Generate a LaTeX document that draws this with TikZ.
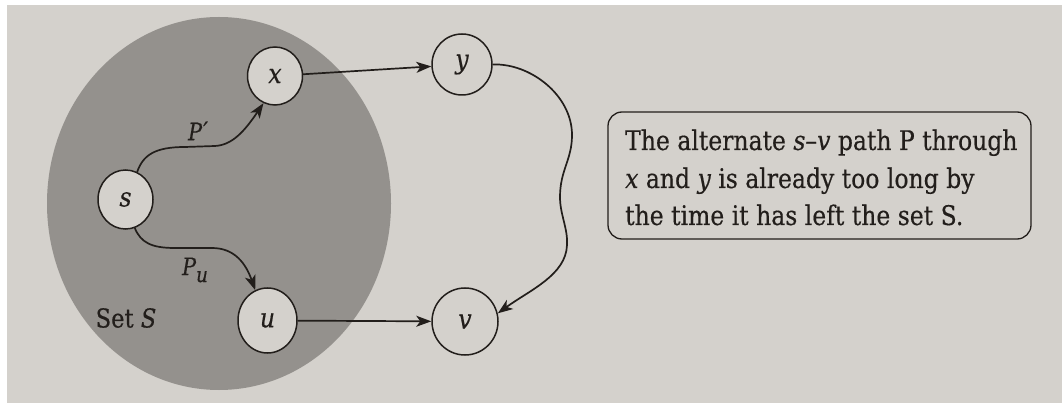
\documentclass[tikz,border=0pt]{standalone}
\usepackage{fontspec}
\setmainfont{DejaVu Serif}[FakeStretch=0.87,FakeBold=0.4]
\usetikzlibrary{arrows.meta,shapes.geometric}
\definecolor{paper}{RGB}{212,209,204}
\definecolor{diskc}{RGB}{148,145,141}
\definecolor{ink}{RGB}{34,30,27}
\begin{document}
\begin{tikzpicture}[x=1pt,y=-1pt,
  vert/.style={ellipse,draw=ink,line width=1.5pt,fill=paper,inner sep=0pt,text=ink,
    font=\fontsize{27}{30}\selectfont\itshape},
  edge/.style={draw=ink,line width=1.7pt,-{Stealth[length=15pt,width=11pt,inset=4pt]}},
  lab/.style={text=ink,inner sep=0pt},
  txt/.style={text=ink,inner sep=0pt,anchor=base west,font=\fontsize{27}{37.5}\selectfont},
  boxst/.style={draw=ink,line width=1.3pt,rounded corners=14pt,inner sep=0pt}
]
\fill[white] (0,0) rectangle (1062,403);
\fill[paper] (7,5) rectangle (1062,403);
\useasboundingbox (0,0) rectangle (1062,403);
\fill[diskc] (219,203.5) ellipse [x radius=172, y radius=186.5];

\node[vert,minimum width=55pt,minimum height=59pt] (s) at (125.5,199.5) {s};
\node[vert,minimum width=55pt,minimum height=58pt] (x) at (275,76) {x};
\node[vert,minimum width=59pt,minimum height=65pt] (u) at (267.5,320.5) {u};
\node[vert,minimum width=60pt,minimum height=61pt] (y) at (462,64.5) {y};
\node[vert,minimum width=66pt,minimum height=67pt] (v) at (465,321.5) {v};

\node[lab,font=\fontsize{24}{26}\selectfont\itshape] (pp) at (198,131) {P\kern1pt\raisebox{1pt}{′}};
\node[lab,font=\fontsize{24}{26}\selectfont\itshape] (pu) at (195,270) {P\raisebox{-7pt}{\fontsize{21}{24}\selectfont u}};
\node[lab,font=\fontsize{26}{30}\selectfont] (setS) at (126,318) {Set {\itshape S}};

\draw[edge] (s.67) .. controls (143,155) and (155,147) .. (185,147) -- (215,146) .. controls (232,145) and (244,132) .. (x.247);
\draw[edge] (s.-72) .. controls (141,243) and (152,248) .. (175,248) -- (212,248) .. controls (235,248) and (246,264) .. (u.112);
\draw[edge] (x) -- (y);
\draw[edge] (u) -- (v);
\draw[edge] (y.east) .. controls (530,63) and (572,95) .. (572,135) .. controls (572,160) and (560,170) .. (560,197) .. controls (560,215) and (568,228) .. (567,245) .. controls (566,275) and (530,290) .. (v.14);

\node[boxst,minimum width=423pt,minimum height=127pt] (box) at (819.5,175.5) {};
\node[txt] (t1) at (625,150) {The alternate {\itshape s}–{\itshape v} path P through};
\node[txt] (t2) at (625,188) {{\itshape x} and {\itshape y} is already too long by};
\node[txt] (t3) at (625,225) {the time it has left the set S.};
\end{tikzpicture}
\end{document}
